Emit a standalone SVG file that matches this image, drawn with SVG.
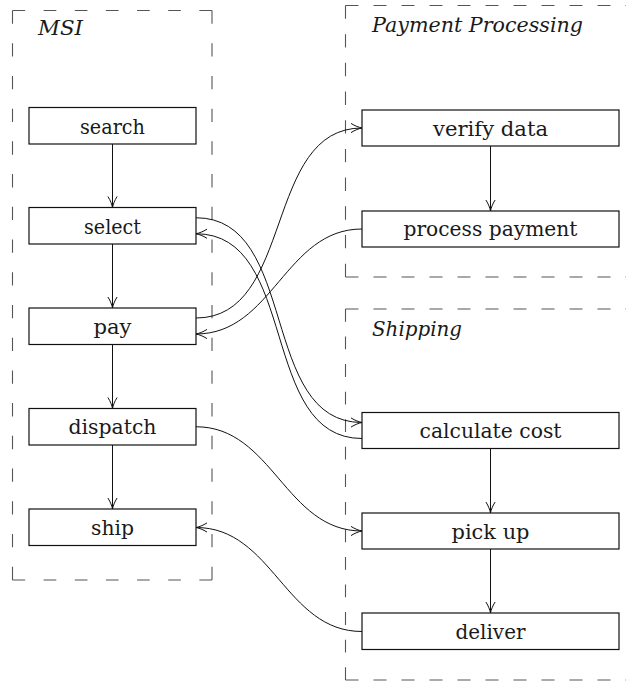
<svg xmlns="http://www.w3.org/2000/svg" width="626" height="683" viewBox="0 0 626 683">
  <style>
    .frame { fill: none; stroke: #555; stroke-width: 1.1; }
    .frame-l { stroke-dasharray: 13 19; }
    .frame-r { stroke-dasharray: 13 15; }
    .title { font-family: 'DejaVu Serif', 'Liberation Serif', 'Noto Serif', Tinos, 'Nimbus Roman', FreeSerif, Times, serif; font-style: italic; font-size: 21px; fill: #1a1a1a; }
    .box { fill: #fff; stroke: #111; stroke-width: 1.2; }
    .label { font-family: 'DejaVu Serif', 'Liberation Serif', 'Noto Serif', Tinos, 'Nimbus Roman', FreeSerif, Times, serif; font-size: 21px; fill: #1a1a1a; text-anchor: middle; }
    .edge { fill: none; stroke: #111; stroke-width: 1; marker-end: url(#to); }
  </style>
  <defs>
    <marker id="to" viewBox="-13 -6 14 12" markerWidth="14" markerHeight="12" refX="0" refY="0" markerUnits="userSpaceOnUse" orient="auto">
      <path d="M-11,-4.6 C-7,-2 -3,-0.6 0,0 C-3,0.6 -7,2 -11,4.6" fill="none" stroke="#111" stroke-width="1"/>
    </marker>
  </defs>

  <!-- swimlane frames -->
  <g id="lane-msi">
    <path class="frame frame-l" d="M12.5,10.5 H212" pathLength="205"/>
    <path class="frame frame-l" d="M12.5,580 H212" pathLength="205"/>
    <path class="frame frame-l" d="M12.5,10.5 V580" pathLength="557"/>
    <path class="frame frame-l" d="M212,10.5 V580" pathLength="557"/>
    <text class="title" x="38" y="35" textLength="45" lengthAdjust="spacingAndGlyphs">MSI</text>
  </g>
  <g id="lane-payment">
    <path class="frame frame-r" d="M345.5,5.5 H640"/>
    <path class="frame frame-r" d="M345.5,277 H640"/>
    <path class="frame frame-r" d="M345.5,5.5 V277" pathLength="265"/>
    <text class="title" x="372" y="32" textLength="211" lengthAdjust="spacingAndGlyphs">Payment Processing</text>
  </g>
  <g id="lane-shipping">
    <path class="frame frame-r" d="M345.5,309 H640"/>
    <path class="frame frame-r" d="M345.5,680 H640"/>
    <path class="frame frame-r" d="M345.5,309 V680" pathLength="377"/>
    <text class="title" x="372" y="336" textLength="90" lengthAdjust="spacingAndGlyphs">Shipping</text>
  </g>

  <!-- connectors -->
  <g id="connectors">
    <path class="edge" d="M112.5,144 V207.5"/>
    <path class="edge" d="M112.5,244 V308"/>
    <path class="edge" d="M112.5,344.5 V408.5"/>
    <path class="edge" d="M112.5,445 V509"/>
    <path class="edge" d="M490.5,146 V211"/>
    <path class="edge" d="M490.5,448.5 V513"/>
    <path class="edge" d="M490.5,549 V613"/>
    <path class="edge" d="M196,318 C294.8,318 263.2,128 362,128"/>
    <path class="edge" d="M362,229 C285.1,229 272.9,334 196,334"/>
    <path class="edge" d="M196,217.75 C299.2,217.75 258.8,422.5 362,422.5"/>
    <path class="edge" d="M362,438.5 C258.8,438.5 299.2,233.75 196,233.75"/>
    <path class="edge" d="M196,426.75 C272.7,426.75 285.3,531 362,531"/>
    <path class="edge" d="M362,631.5 C285.3,631.5 272.7,527.5 196,527.5"/>
  </g>

  <!-- MSI steps -->
  <g id="search">
    <rect class="box" x="29" y="107.5" width="167" height="36.5"/>
    <text class="label" x="112.5" y="133.5" textLength="65" lengthAdjust="spacingAndGlyphs">search</text>
  </g>
  <g id="select">
    <rect class="box" x="29" y="207.5" width="167" height="36.5"/>
    <text class="label" x="112.5" y="233.5" textLength="57" lengthAdjust="spacingAndGlyphs">select</text>
  </g>
  <g id="pay">
    <rect class="box" x="29" y="308" width="167" height="36.5"/>
    <text class="label" x="112.5" y="334" textLength="38" lengthAdjust="spacingAndGlyphs">pay</text>
  </g>
  <g id="dispatch">
    <rect class="box" x="29" y="408.5" width="167" height="36.5"/>
    <text class="label" x="112.5" y="434" textLength="88" lengthAdjust="spacingAndGlyphs">dispatch</text>
  </g>
  <g id="ship">
    <rect class="box" x="29" y="509" width="167" height="36.5"/>
    <text class="label" x="112.5" y="534.5" textLength="43" lengthAdjust="spacingAndGlyphs">ship</text>
  </g>

  <!-- payment steps -->
  <g id="verify-data">
    <rect class="box" x="362" y="110" width="257" height="36"/>
    <text class="label" x="490.5" y="135.5" textLength="115" lengthAdjust="spacingAndGlyphs">verify data</text>
  </g>
  <g id="process-payment">
    <rect class="box" x="362" y="211" width="257" height="36"/>
    <text class="label" x="490.5" y="236" textLength="174" lengthAdjust="spacingAndGlyphs">process payment</text>
  </g>

  <!-- shipping steps -->
  <g id="calculate-cost">
    <rect class="box" x="362" y="412.5" width="257" height="36"/>
    <text class="label" x="490.5" y="438" textLength="142" lengthAdjust="spacingAndGlyphs">calculate cost</text>
  </g>
  <g id="pick-up">
    <rect class="box" x="362" y="513" width="257" height="36"/>
    <text class="label" x="490.5" y="538.5" textLength="78" lengthAdjust="spacingAndGlyphs">pick up</text>
  </g>
  <g id="deliver">
    <rect class="box" x="362" y="613" width="257" height="36.5"/>
    <text class="label" x="490.5" y="638.5" textLength="70" lengthAdjust="spacingAndGlyphs">deliver</text>
  </g>
</svg>
